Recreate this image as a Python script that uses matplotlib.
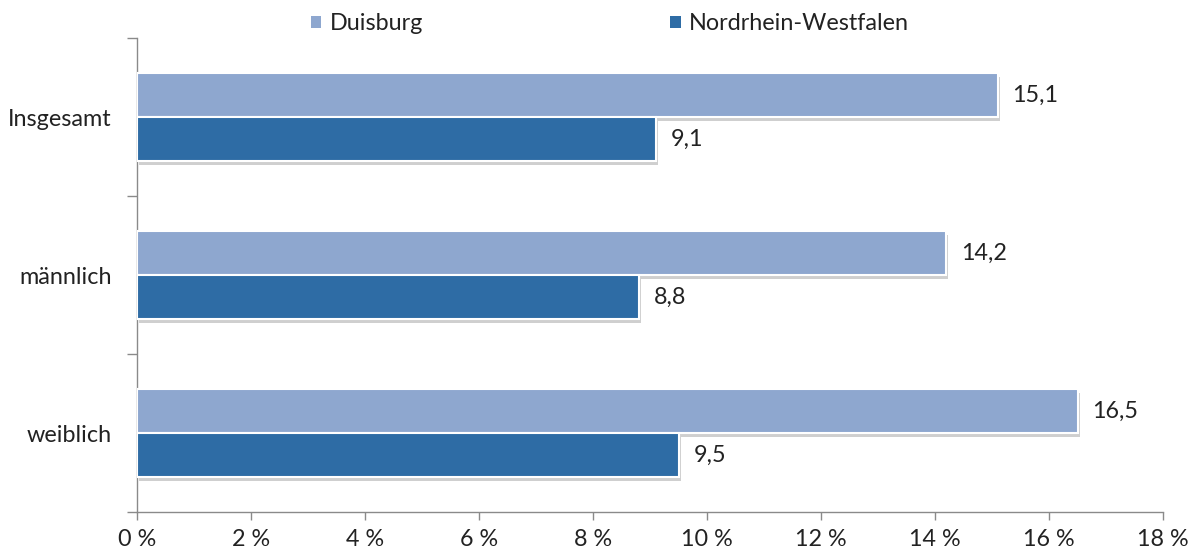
import matplotlib
matplotlib.use("Agg")
import matplotlib.pyplot as plt
import matplotlib.patheffects as pe
from matplotlib.patches import Patch

categories = ["Insgesamt", "männlich", "weiblich"]
duisburg = [15.1, 14.2, 16.5]
nrw = [9.1, 8.8, 9.5]
series_names = ["Duisburg", "Nordrhein-Westfalen"]
xticks = [0, 2, 4, 6, 8, 10, 12, 14, 16, 18]
xtick_labels = [f"{v} %" for v in xticks]

c_dui = "#8EA7CF"
c_nrw = "#2E6CA5"
txt = "#222222"
axcol = "#8a8a8a"
fs = 16.8

plt.rcParams["font.family"] = ["Lato", "DejaVu Sans"]

fig = plt.figure(figsize=(11.98, 5.57), dpi=100)
ax = fig.add_axes([137/1198, 1-512/557, (1163-137)/1198, (512-38)/557])

n = len(categories)
pos = [n - 1 - i for i in range(n)]
h = 0.28
shadow = [pe.SimplePatchShadow(offset=(1.5, -3), shadow_rgbFace="#888888", alpha=0.4), pe.Normal()]

b1 = ax.barh([p + h/2 for p in pos], duisburg, height=h, color=c_dui, edgecolor="white", linewidth=1.5, zorder=3)
b2 = ax.barh([p - h/2 for p in pos], nrw, height=h, color=c_nrw, edgecolor="white", linewidth=1.5, zorder=3)
for bars in (b1, b2):
    for r in bars:
        r.set_path_effects(shadow)

for p, v in zip(pos, duisburg):
    ax.text(v + 0.26, p + h/2, f"{v:.1f}".replace(".", ","), va="center", ha="left", fontsize=fs, color=txt)
for p, v in zip(pos, nrw):
    ax.text(v + 0.26, p - h/2, f"{v:.1f}".replace(".", ","), va="center", ha="left", fontsize=fs, color=txt)

ax.set_xlim(0, 18)
ax.set_ylim(-0.5, n - 0.5)
ax.set_xticks(xticks)
ax.set_xticklabels(xtick_labels, fontsize=fs, color=txt)
ax.set_yticks([i - 0.5 for i in range(n + 1)])
ax.set_yticklabels([])
ax.set_yticks(pos, minor=True)
ax.set_yticklabels(categories, minor=True, fontsize=fs, color=txt)
ax.tick_params(axis="y", which="minor", length=0, pad=18)
ax.tick_params(axis="y", which="major", length=7, color=axcol, width=1)
ax.tick_params(axis="x", length=6, color=axcol, width=1, pad=6)

for s in ("top", "right"):
    ax.spines[s].set_visible(False)
for s in ("left", "bottom"):
    ax.spines[s].set_color(axcol)
    ax.spines[s].set_linewidth(1)

handles = [Patch(facecolor=c_dui, edgecolor="none"), Patch(facecolor=c_nrw, edgecolor="none")]
fig.legend(handles, series_names, loc="center", bbox_to_anchor=(610/1198, 1-24/557), ncol=2,
           frameon=False, fontsize=fs, handlelength=0.45, handleheight=0.45, handletextpad=0.35,
           columnspacing=10.6, labelcolor=txt)

fig.savefig("out.png", dpi=100)
